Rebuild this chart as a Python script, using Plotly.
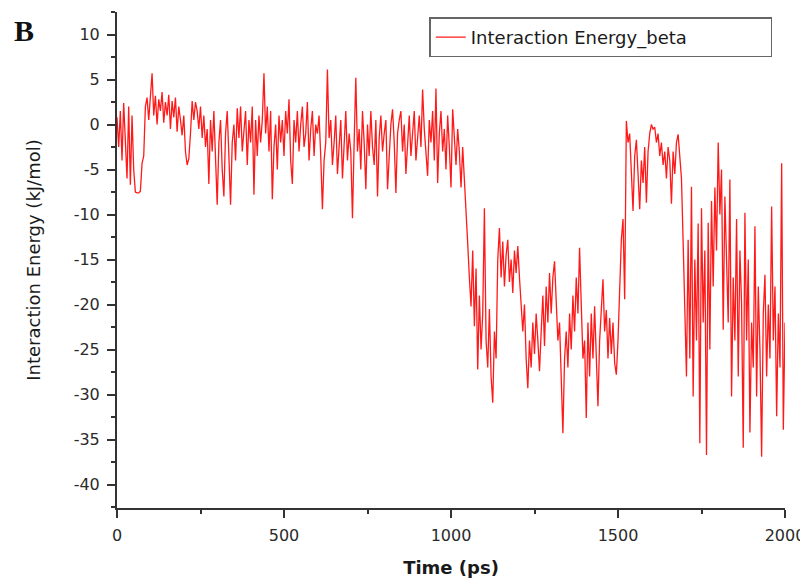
import plotly.graph_objects as go

# Time axis (ps), sampled every 5 ps
time_ps = [i * 5 for i in range(401)]

energy_0_995 = [
    0.8, -2.5, 1.5, -4.0, 2.4, -3.0, -6.0, 2.0, -6.7, 1.0, -5.0, -7.5, -7.6, -7.6, -7.4, -4.3, -3.5, 2.0, 3.0, 0.5,
    3.5, 5.7, 1.0, 3.2, 0.0, 2.8, 1.5, 3.6, 0.2, 2.5, 1.0, 3.3, -0.5, 2.6, 0.8, 3.0, -0.8, 2.0, 0.5, -1.2,
    1.0, -3.0, -4.5, -3.8, -1.0, 2.6, 0.5, 2.5, 1.5, -0.5, 2.0, -1.5, 1.0, -2.5, -0.5, -6.6, 0.5, -3.0, 1.5, -4.5,
    -8.9, -2.0, 0.5, -5.0, -8.0, -1.0, 1.5, -3.5, -8.9, -2.0, 0.0, -4.0, 1.8, -1.5, 2.0, -3.0, -0.5, 1.5, -4.5, 0.5,
    -2.0, 2.0, -7.8, 0.5, -3.5, 1.0, -2.0, 0.5, 5.7, -1.0, 2.0, -3.0, 1.5, -8.3, -2.5, 0.0, -5.0, 1.0, -2.0, 0.5,
    -3.5, 1.5, -1.0, 2.8, -4.0, -6.6, 0.5, -2.0, 1.5, -3.0, 0.0, 2.0, -2.5, -1.0, 2.5, -4.0, -0.5, 1.5, -3.5, 0.0,
    -1.0, 1.0, -3.5, -9.4, -4.0, -2.0, 6.1, -1.5, 0.5, -4.5, -2.0, 1.0, -5.5, -3.0, 0.5, -6.0, -2.5, 1.5, -4.0, -1.0,
    -3.0, -10.4, -2.0, 5.2, -3.0, -0.5, -5.0, 1.5, -2.0, -7.2, 0.0, -3.5, 1.5, -2.5, -4.5, 0.5, -8.0, -1.5, 1.0, -3.0,
    -1.0, 0.5, -7.2, -3.0, 0.0, 1.7, -2.0, -7.6, -1.0, 0.5, 1.5, -3.0, 0.0, -5.5, -1.5, 1.0, -3.5, -0.5, 1.5, -4.0,
    -1.0, 1.0, -2.5, 3.9, -0.5, -3.0, -5.7, 0.5, -2.0, 1.5, -4.0, 4.0, -6.5, -1.0, 1.5, -3.0, -0.5, -5.0, 1.0, -2.5,
]

energy_1000_1995 = [
    -7.0, 1.7, -2.0, -4.5, -0.5, -3.0, -7.0, -2.5, -6.1, -9.0, -13.2, -17.0, -20.2, -14.0, -22.4, -16.0, -27.2, -19.0, -25.0, -21.0,
    -9.3, -24.0, -27.0, -20.5, -28.0, -30.9, -23.0, -26.0, -15.0, -11.5, -17.0, -13.0, -18.0, -14.5, -12.8, -17.5, -15.0, -18.7, -14.0, -16.5,
    -13.5, -17.0, -19.5, -23.0, -20.0, -26.0, -29.3, -24.0, -27.0, -22.0, -25.5, -21.0, -24.0, -27.4, -23.0, -19.0, -24.6, -18.0, -22.0, -16.5,
    -21.0, -17.0, -15.2, -20.0, -24.0, -22.0, -28.0, -34.3, -26.0, -23.0, -27.0, -21.0, -25.0, -19.0, -23.0, -17.0, -21.0, -13.7, -20.0, -26.0,
    -24.0, -32.6, -22.0, -28.0, -21.0, -26.0, -20.2, -25.0, -31.3, -24.0, -20.0, -17.2, -23.0, -20.6, -26.0, -21.5, -25.5, -22.0, -26.5, -27.8,
    -24.0, -18.0, -12.8, -10.5, -19.4, 0.4, -2.0, -1.0, -6.0, -9.6, -3.5, -1.7, -5.5, -9.4, -4.0, -6.5, -2.5, -8.7, -3.0, -1.0,
    0.0, -0.5, -0.3, -2.0, -1.0, -3.5, -2.0, -4.5, -3.0, -6.0, -2.5, -4.0, -8.8, -3.0, -5.5, -2.0, -1.1, -3.5, -6.0, -13.0,
    -20.0, -28.0, -12.8, -26.0, -6.9, -30.2, -15.0, -24.0, -11.0, -35.4, -9.3, -22.0, -14.0, -36.7, -10.9, -25.0, -8.5, -18.0, -7.0, -14.0,
    -2.0, -10.0, -5.0, -22.8, -8.0, -14.0, -22.0, -6.1, -30.2, -17.0, -24.0, -10.5, -28.0, -14.0, -20.0, -35.9, -9.8, -24.0, -15.0, -34.2,
    -22.0, -27.0, -11.3, -30.2, -18.0, -25.0, -36.9, -21.0, -16.7, -28.0, -20.0, -26.0, -9.1, -24.0, -18.0, -32.4, -21.0, -27.0, -4.3, -33.9,
]

energy_2000 = [-22.0]

energy = energy_0_995 + energy_1000_1995 + energy_2000

x_tick_vals = [0, 500, 1000, 1500, 2000]
x_tick_text = ["0", "500", "1000", "1500", "2000"]
y_tick_vals = [-40, -35, -30, -25, -20, -15, -10, -5, 0, 5, 10]
y_tick_text = ["-40", "-35", "-30", "-25", "-20", "-15", "-10", "-5", "0", "5", "10"]

fig = go.Figure()
fig.add_trace(go.Scatter(
    x=time_ps, y=energy, mode="lines",
    line=dict(color="#ff1a1a", width=1.3),
    name="Interaction Energy_beta",
))

axis_font = dict(family="DejaVu Sans", size=16, color="#2a2a2a")

fig.update_layout(
    width=800, height=576,
    margin=dict(l=109, r=23, t=4, b=76, autoexpand=False),
    paper_bgcolor="white", plot_bgcolor="white",
    showlegend=True,
    legend=dict(
        orientation="h",
        x=0.981, y=0.989, xanchor="right", yanchor="top",
        bordercolor="#666666", borderwidth=1.5, bgcolor="white",
        font=dict(family="DejaVu Sans", size=18, color="#1a1a1a"),
        entrywidth=295, entrywidthmode="pixels",
        tracegroupgap=0,
    ),
    xaxis=dict(
        range=[0, 2000], tickmode="array", tickvals=x_tick_vals, ticktext=x_tick_text,
        ticks="outside", ticklen=8, tickwidth=2, tickcolor="#333333",
        showline=True, linecolor="#333333", linewidth=2, mirror=False, automargin=False,
        showgrid=False, zeroline=False, tickfont=axis_font, ticklabelstandoff=4,
        minor=dict(dtick=250, ticks="outside", ticklen=4, tickwidth=2, tickcolor="#333333", showgrid=False),
        title=dict(text="<b>Time (ps)</b>", font=dict(family="DejaVu Sans", size=18, color="#1a1a1a"), standoff=17),
    ),
    yaxis=dict(
        range=[-42.6, 12.5], tickmode="array", tickvals=y_tick_vals, ticktext=y_tick_text,
        ticks="outside", ticklen=8, tickwidth=2, tickcolor="#333333",
        showline=True, linecolor="#333333", linewidth=2, mirror=False, automargin=False,
        showgrid=False, zeroline=False, tickfont=axis_font, ticklabelstandoff=4,
        minor=dict(dtick=2.5, ticks="outside", ticklen=4, tickwidth=2, tickcolor="#333333", showgrid=False),
        title=dict(text="Interaction Energy (kJ/mol)", font=dict(family="DejaVu Sans", size=18, color="#1a1a1a"), standoff=28),
    ),
    annotations=[dict(
        text="<b>B</b>", xref="paper", yref="paper",
        x=-0.157, y=1.0, xanchor="left", yanchor="top", showarrow=False,
        font=dict(family="Liberation Serif", size=30, color="#111111"),
    )],
)

fig.write_html("out.html")
